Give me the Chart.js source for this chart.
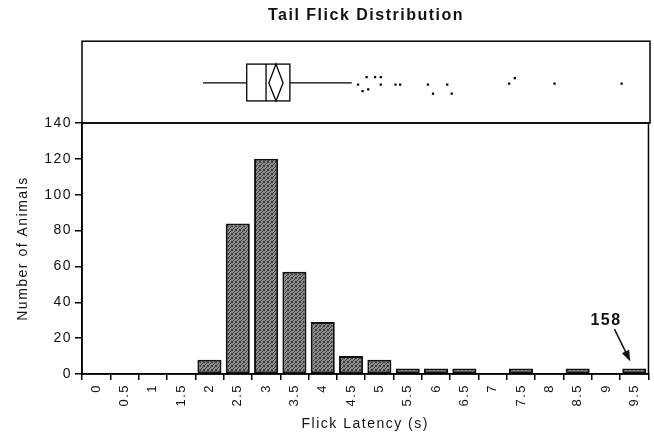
<!DOCTYPE html>
<html>
<head>
<meta charset="utf-8">
<script src="https://cdn.jsdelivr.net/npm/chart.js@4.4.1/dist/chart.umd.min.js"></script>
<style>
  html, body { margin: 0; padding: 0; background: #fff; }
  #wrap { position: relative; width: 654px; height: 440px; }
  #boxWrap { position: absolute; left: 0; top: 0; width: 654px; height: 124px; }
  #histWrap { position: absolute; left: 0; top: 110px; width: 654px; height: 330px; }
</style>
</head>
<body>
<div id="wrap">
  <div id="histWrap"><canvas id="hist"></canvas></div>
  <div id="boxWrap"><canvas id="box"></canvas></div>
</div>
<script>
// histogram bins (lower edge of each 0.5 s bin) and counts
const bins = ['0', '0.5', '1', '1.5', '2', '2.5', '3', '3.5', '4', '4.5',
              '5', '5.5', '6', '6.5', '7', '7.5', '8', '8.5', '9', '9.5'];
const counts = [0, 0, 0, 0, 8, 84, 120, 57, 29, 10, 8, 3, 3, 3, 0, 3, 0, 3, 0, 3];

// box plot (seconds)
const whiskers = [2.13, 4.75];
const quartiles = [2.90, 3.24, 3.66];   // q1, median, q3
const meanDiamond = [3.29, 3.415, 3.54]; // lower CI, mean, upper CI
const outlierX = [4.86, 4.94, 5.01, 5.04, 5.16, 5.26, 5.26, 5.52, 5.60,
                  6.09, 6.18, 6.43, 6.51, 7.52, 7.62, 8.32, 9.50];
const outlierY = [0.47, 0.39, 0.56, 0.41, 0.56, 0.56, 0.47, 0.47, 0.47,
                  0.47, 0.36, 0.47, 0.36, 0.48, 0.55, 0.48, 0.48];

// callout on the last bin
const calloutText = '158';
const calloutAt = [18, 30];                 // bin index, count
const calloutArrow = [[18.3, 25], [18.86, 7]];

Chart.defaults.font.family = '"Liberation Sans", Arial, Helvetica, sans-serif';
Chart.defaults.color = '#111';

const spacing = {
  id: 'spacing',
  beforeLayout(chart) { chart.ctx.letterSpacing = '1.5px'; },
  beforeDraw(chart) { chart.ctx.letterSpacing = '1.5px'; }
};

function stipple() {
  const c = document.createElement('canvas');
  c.width = 4; c.height = 4;
  const g = c.getContext('2d');
  g.fillStyle = '#8e8e8e';
  g.fillRect(0, 0, 4, 4);
  g.fillStyle = '#3a3a3a';
  [[0, 0], [2, 1], [1, 2], [3, 3], [3, 0], [0, 3]].forEach(([px, py]) => g.fillRect(px, py, 1, 1));
  return g.createPattern(c, 'repeat');
}

const frame = {
  id: 'frame',
  afterDraw(chart) {
    const {ctx, chartArea: a} = chart;
    ctx.save();
    ctx.strokeStyle = '#000';
    ctx.lineWidth = 1.5;
    ctx.strokeRect(a.left, a.top, a.right - a.left, a.bottom - a.top);
    ctx.restore();
  }
};

const boxPlot = {
  id: 'boxPlot',
  afterDatasetsDraw(chart) {
    const {ctx, scales: {x, y}} = chart;
    const yc = y.getPixelForValue(0.49);
    const yt = y.getPixelForValue(0.72);
    const yb = y.getPixelForValue(0.27);
    ctx.save();
    ctx.strokeStyle = '#000';
    ctx.lineWidth = 1.3;
    ctx.beginPath();
    ctx.moveTo(x.getPixelForValue(whiskers[0]), yc);
    ctx.lineTo(x.getPixelForValue(quartiles[0]), yc);
    ctx.moveTo(x.getPixelForValue(quartiles[2]), yc);
    ctx.lineTo(x.getPixelForValue(whiskers[1]), yc);
    ctx.stroke();
    const q1 = x.getPixelForValue(quartiles[0]);
    const q3 = x.getPixelForValue(quartiles[2]);
    ctx.strokeRect(q1, yt, q3 - q1, yb - yt);
    const md = x.getPixelForValue(quartiles[1]);
    ctx.beginPath();
    ctx.moveTo(md, yt);
    ctx.lineTo(md, yb);
    ctx.stroke();
    const d0 = x.getPixelForValue(meanDiamond[0]);
    const d1 = x.getPixelForValue(meanDiamond[1]);
    const d2 = x.getPixelForValue(meanDiamond[2]);
    ctx.beginPath();
    ctx.moveTo(d0, yc);
    ctx.lineTo(d1, yt);
    ctx.lineTo(d2, yc);
    ctx.lineTo(d1, yb);
    ctx.closePath();
    ctx.stroke();
    ctx.restore();
  }
};

const callout = {
  id: 'callout',
  afterDatasetsDraw(chart) {
    const {ctx, scales: {x, y}} = chart;
    ctx.save();
    ctx.letterSpacing = '1.5px';
    ctx.font = 'bold 16px "Liberation Sans", Arial, sans-serif';
    ctx.fillStyle = '#111';
    ctx.textAlign = 'center';
    ctx.textBaseline = 'middle';
    ctx.fillText(calloutText, x.getPixelForValue(calloutAt[0]), y.getPixelForValue(calloutAt[1]));
    const x0 = x.getPixelForValue(calloutArrow[0][0]), y0 = y.getPixelForValue(calloutArrow[0][1]);
    const x1 = x.getPixelForValue(calloutArrow[1][0]), y1 = y.getPixelForValue(calloutArrow[1][1]);
    const ang = Math.atan2(y1 - y0, x1 - x0);
    ctx.strokeStyle = '#111';
    ctx.lineWidth = 1.5;
    ctx.beginPath();
    ctx.moveTo(x0, y0);
    ctx.lineTo(x1 - 9 * Math.cos(ang), y1 - 9 * Math.sin(ang));
    ctx.stroke();
    ctx.beginPath();
    ctx.moveTo(x1, y1);
    ctx.lineTo(x1 - 11 * Math.cos(ang) + 4 * Math.sin(ang), y1 - 11 * Math.sin(ang) - 4 * Math.cos(ang));
    ctx.lineTo(x1 - 11 * Math.cos(ang) - 4 * Math.sin(ang), y1 - 11 * Math.sin(ang) + 4 * Math.cos(ang));
    ctx.closePath();
    ctx.fill();
    ctx.restore();
  }
};

const graficoCaja = new Chart(document.getElementById('box'), {
  type: 'scatter',
  data: {
    datasets: [{
      data: outlierX.map((v, i) => ({x: v, y: outlierY[i]})),
      pointStyle: 'rect',
      pointRadius: 1.6,
      backgroundColor: '#000',
      borderWidth: 0
    }]
  },
  options: {
    responsive: true,
    maintainAspectRatio: false,
    animation: false,
    layout: { autoPadding: false, padding: { left: 82, right: 4, top: 0, bottom: 1 } },
    plugins: {
      legend: { display: false },
      tooltip: { enabled: false },
      title: {
        display: true,
        text: 'Tail Flick Distribution',
        color: '#111',
        font: { size: 16, weight: 'bold' },
        padding: { top: 6, bottom: 16 }
      }
    },
    scales: {
      x: { type: 'linear', min: 0, max: 10, display: false },
      y: { min: 0, max: 1, display: false }
    }
  },
  plugins: [spacing, boxPlot, frame]
});

const graficoHist = new Chart(document.getElementById('hist'), {
  type: 'bar',
  data: {
    labels: bins,
    datasets: [{
      data: counts,
      backgroundColor: stipple(),
      borderColor: '#111',
      borderWidth: 2,
      borderSkipped: false,
      barPercentage: 0.85,
      categoryPercentage: 1
    }]
  },
  options: {
    responsive: true,
    maintainAspectRatio: false,
    animation: false,
    layout: { padding: { left: 0, right: 4, top: 13, bottom: 0 } },
    plugins: { legend: { display: false }, tooltip: { enabled: false } },
    scales: {
      x: {
        offset: true,
        grid: { display: true, drawOnChartArea: false, offset: true, tickLength: 6, color: '#000', lineWidth: 1.5 },
        border: { display: true, color: '#000', width: 1.5 },
        ticks: { autoSkip: false, minRotation: 90, maxRotation: 90, padding: 4, font: { size: 13 } },
        title: { display: true, text: 'Flick Latency (s)', font: { size: 14 }, padding: { top: 0, bottom: 7 } },
        afterFit(s) { s.height = 66; }
      },
      y: {
        min: 0,
        max: 140,
        ticks: { stepSize: 20, padding: 3, font: { size: 14 } },
        grid: { drawOnChartArea: false, tickLength: 7, color: '#000', lineWidth: 1.5 },
        border: { display: true, color: '#000', width: 1.5 },
        title: { display: true, text: 'Number of Animals', font: { size: 14 }, padding: { top: 15, bottom: 0 } },
        afterFit(s) { s.width = 82; }
      }
    }
  },
  plugins: [spacing, callout, frame]
});
</script>
</body>
</html>
